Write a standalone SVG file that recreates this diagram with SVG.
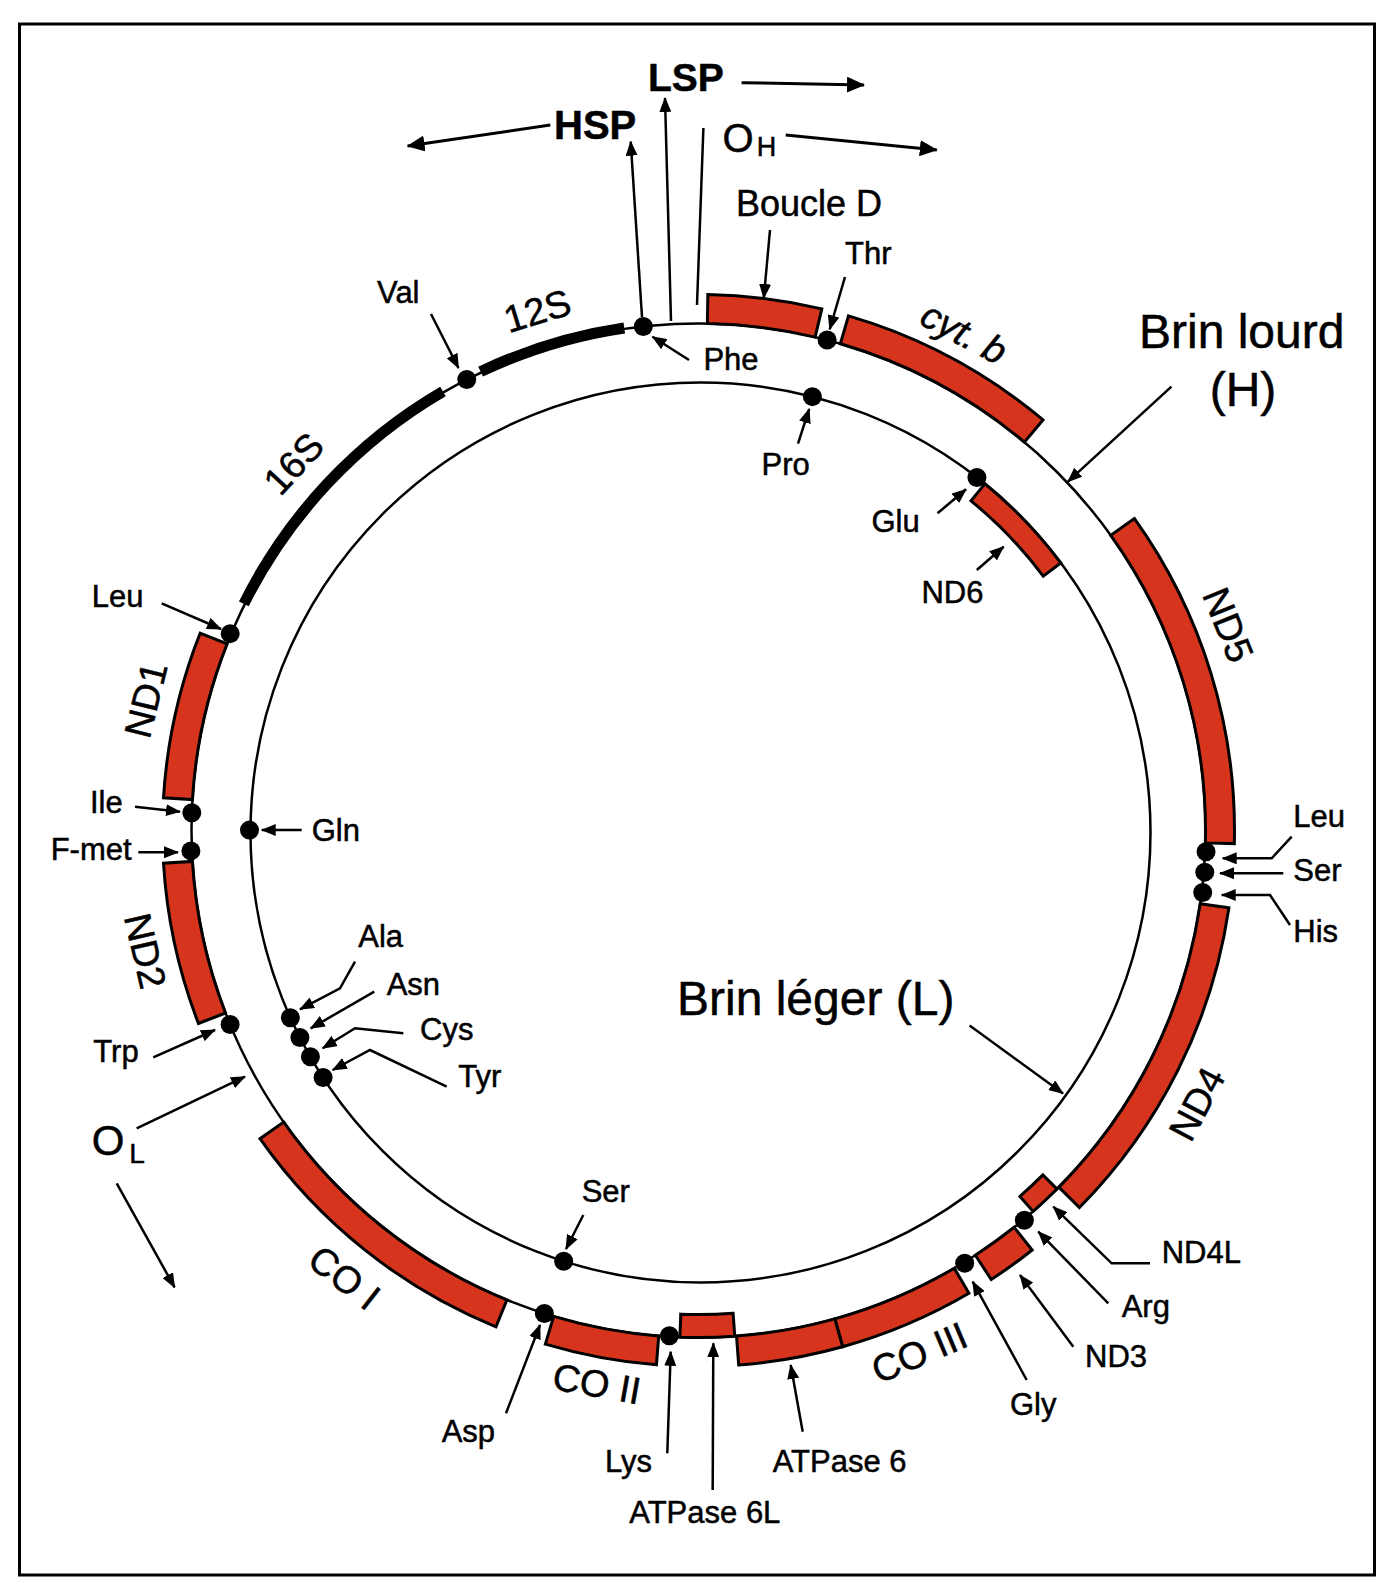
<svg xmlns="http://www.w3.org/2000/svg" width="1393" height="1592" viewBox="0 0 1393 1592">
<style>
.box{fill:#d6341c;stroke:#000;stroke-width:3;stroke-linejoin:miter}
.strand{fill:none;stroke:#000;stroke-width:2.5}
.rrna{fill:none;stroke:#000;stroke-width:11}
.dot{fill:#000}
text{font-family:"Liberation Sans",Arial,Helvetica,sans-serif;fill:#000;stroke:#000;stroke-width:0.5}
.lbl{font-size:31px}
.gl{font-size:38px}
.big{font-size:48px}
.arr{fill:none;stroke:#000;stroke-width:2.5;marker-end:url(#ah)}
.arrb{fill:none;stroke:#000;stroke-width:3;marker-end:url(#ahb)}
</style>
<defs>
<marker id="ah" viewBox="0 0 15 12" refX="14" refY="6" markerWidth="15" markerHeight="12" markerUnits="userSpaceOnUse" orient="auto"><path d="M0,0 L15,6 L0,12 z" fill="#000"/></marker>
<marker id="ahb" viewBox="0 0 18 16" refX="17" refY="8" markerWidth="18" markerHeight="16" markerUnits="userSpaceOnUse" orient="auto"><path d="M0,0 L18,8 L0,16 z" fill="#000"/></marker>
</defs>
<rect width="1393" height="1592" fill="#fff"/>
<g id="frame"><rect x="19.5" y="24" width="1355" height="1551" fill="none" stroke="#000" stroke-width="3"/></g>

<g id="strand-H"><circle class="strand" cx="698.5" cy="830.5" r="507"/>
<text class="big" x="1139" y="348">Brin lourd</text><text class="big" x="1243" y="406" text-anchor="middle">(H)</text></g>
<g id="strand-L"><circle class="strand" cx="700.5" cy="832.5" r="450"/>
<text class="big" x="677" y="1015">Brin léger (L)</text></g>

<g id="rRNA-16S"><path class="rrna" d="M243.87,603.83 A508,508 0 0 1 442.97,391.45"/><text class="gl" font-size="40" transform="translate(293,463) rotate(-47)" text-anchor="middle" y="14">16S</text></g>
<g id="rRNA-12S"><path class="rrna" d="M480.60,371.61 A508,508 0 0 1 624.29,327.95"/><text class="gl" font-size="40" transform="translate(537,310) rotate(-17)" text-anchor="middle" y="14">12S</text></g>

<g id="boucle-D"><path class="box" d="M707.35,323.58 A507,507 0 0 1 815.14,337.10 L821.81,308.88 A536,536 0 0 0 707.85,294.58 Z"/><text x="736" y="216" font-size="36">Boucle D</text></g>
<g id="gene-cytb"><path class="box" d="M840.37,343.75 A507,507 0 0 1 1024.39,442.11 L1043.03,419.90 A536,536 0 0 0 848.49,315.91 Z"/><text class="gl" font-style="italic" transform="translate(964,333) rotate(28)" text-anchor="middle" y="13">cyt. b</text></g>
<g id="gene-ND5"><path class="box" d="M1110.74,535.36 A507,507 0 0 1 1205.35,842.89 L1234.34,843.60 A536,536 0 0 0 1134.32,518.48 Z"/><text class="gl" transform="translate(1228,625) rotate(68)" text-anchor="middle" y="13">ND5</text></g>
<g id="gene-ND4"><path class="box" d="M1200.19,903.69 A507,507 0 0 1 1058.88,1187.12 L1079.49,1207.52 A536,536 0 0 0 1228.89,907.87 Z"/><text class="gl" transform="translate(1197,1104) rotate(-62)" text-anchor="middle" y="13">ND4</text></g>
<g id="gene-ND4L"><path class="box" d="M1057.00,1189.00 A507,507 0 0 1 1033.12,1211.39 L1019.92,1196.37 A487,487 0 0 0 1042.86,1174.86 Z"/><text class="lbl" x="1161.7" y="1263.3">ND4L</text></g>
<g id="gene-ND3"><path class="box" d="M1014.12,1227.28 A507,507 0 0 1 975.37,1255.22 L991.21,1279.52 A536,536 0 0 0 1032.17,1249.98 Z"/><text class="lbl" x="1085" y="1366.7">ND3</text></g>
<g id="gene-COIII"><path class="box" d="M954.30,1268.24 A507,507 0 0 1 834.84,1318.82 L842.64,1346.76 A536,536 0 0 0 968.93,1293.28 Z"/><text class="gl" font-size="40" transform="translate(919,1352) rotate(-23)" text-anchor="middle" y="14">CO III</text></g>
<g id="gene-ATPase6"><path class="box" d="M834.84,1318.82 A507,507 0 0 1 736.51,1336.07 L738.69,1364.99 A536,536 0 0 0 842.64,1346.76 Z"/><text class="lbl" x="772.7" y="1471.7">ATPase 6</text></g>
<g id="gene-ATPase6L"><path class="box" d="M734.75,1336.20 A507,507 0 0 1 679.92,1337.16 L680.76,1314.17 A484,484 0 0 0 733.10,1313.26 Z"/><text class="lbl" x="629.3" y="1523.3">ATPase 6L</text></g>
<g id="gene-COII"><path class="box" d="M658.72,1335.94 A507,507 0 0 1 553.66,1316.37 L545.37,1344.16 A536,536 0 0 0 656.45,1364.85 Z"/><text class="gl" font-size="40" transform="translate(597,1383) rotate(10)" text-anchor="middle" y="14">CO II</text></g>
<g id="gene-COI"><path class="box" d="M506.93,1299.92 A507,507 0 0 1 283.72,1122.06 L259.99,1138.73 A536,536 0 0 0 495.98,1326.77 Z"/><text class="gl" font-size="40" transform="translate(345,1277) rotate(38)" text-anchor="middle" y="14">CO I</text></g>
<g id="gene-ND2"><path class="box" d="M225.49,1013.02 A507,507 0 0 1 192.45,861.45 L163.50,863.22 A536,536 0 0 0 198.44,1023.46 Z"/><text class="gl" transform="translate(145,951) rotate(77)" text-anchor="middle" y="13">ND2</text></g>
<g id="gene-ND1"><path class="box" d="M192.45,799.55 A507,507 0 0 1 227.10,643.86 L200.14,633.19 A536,536 0 0 0 163.50,797.78 Z"/><text class="gl" transform="translate(146,700) rotate(-76)" text-anchor="middle" y="13">ND1</text></g>
<g id="gene-ND6"><path class="box" d="M984.91,483.78 A450,450 0 0 1 1060.83,562.94 L1043.21,576.12 A428,428 0 0 0 971.01,500.82 Z"/><text class="lbl" x="921.4" y="603">ND6</text></g>

<g id="tRNA-Phe"><circle class="dot" cx="643.3" cy="326.5" r="9.5"/><text class="lbl" x="703.4" y="370">Phe</text></g>
<g id="tRNA-Thr"><circle class="dot" cx="827.15" cy="340.09" r="9.5"/><text class="lbl" x="845" y="264">Thr</text></g>
<g id="tRNA-Val"><circle class="dot" cx="466.75" cy="379.57" r="9.5"/><text class="lbl" x="377" y="303">Val</text></g>
<g id="tRNA-Leu1"><circle class="dot" cx="230.19" cy="633.64" r="9.5"/><text class="lbl" x="91.7" y="606.7">Leu</text></g>
<g id="tRNA-Ile"><circle class="dot" cx="191.81" cy="812.81" r="9.5"/><text class="lbl" x="90" y="812.7">Ile</text></g>
<g id="tRNA-Fmet"><circle class="dot" cx="190.91" cy="850.89" r="9.5"/><text class="lbl" x="50.7" y="860">F-met</text></g>
<g id="tRNA-Trp"><circle class="dot" cx="230.09" cy="1024.52" r="9.5"/><text class="lbl" x="93.3" y="1061.7">Trp</text></g>
<g id="tRNA-Asp"><circle class="dot" cx="544.36" cy="1313.5" r="9.5"/><text class="lbl" x="441.7" y="1441.7">Asp</text></g>
<g id="tRNA-Lys"><circle class="dot" cx="669.37" cy="1335.66" r="9.5"/><text class="lbl" x="605" y="1471.7">Lys</text></g>
<g id="tRNA-Gly"><circle class="dot" cx="964.68" cy="1263.18" r="9.5"/><text class="lbl" x="1010" y="1415">Gly</text></g>
<g id="tRNA-Arg"><circle class="dot" cx="1024.37" cy="1220.21" r="9.5"/><text class="lbl" x="1121.7" y="1316.7">Arg</text></g>
<g id="tRNA-Leu2"><circle class="dot" cx="1206.05" cy="851.77" r="9.5"/><text class="lbl" x="1293.3" y="826.7">Leu</text></g>
<g id="tRNA-Ser2"><circle class="dot" cx="1204.79" cy="872.13" r="9.5"/><text class="lbl" x="1293.3" y="881">Ser</text></g>
<g id="tRNA-His"><circle class="dot" cx="1202.71" cy="892.41" r="9.5"/><text class="lbl" x="1293.3" y="941.7">His</text></g>
<g id="tRNA-Pro"><circle class="dot" cx="812.41" cy="396.64" r="9.5"/><text class="lbl" x="761.5" y="475">Pro</text></g>
<g id="tRNA-Glu"><circle class="dot" cx="976.93" cy="477.41" r="9.5"/><text class="lbl" x="871.4" y="531.7">Glu</text></g>
<g id="tRNA-Gln"><circle class="dot" cx="249.5" cy="830.1" r="9.5"/><text class="lbl" x="311.7" y="840.7">Gln</text></g>
<g id="tRNA-Ala"><circle class="dot" cx="290.37" cy="1017.68" r="9.5"/><text class="lbl" x="358.3" y="946.7">Ala</text></g>
<g id="tRNA-Asn"><circle class="dot" cx="299.9" cy="1037.5" r="9.5"/><text class="lbl" x="386.7" y="995">Asn</text></g>
<g id="tRNA-Cys"><circle class="dot" cx="310.4" cy="1056.82" r="9.5"/><text class="lbl" x="420" y="1040">Cys</text></g>
<g id="tRNA-Tyr"><circle class="dot" cx="323.1" cy="1077.59" r="9.5"/><text class="lbl" x="458.3" y="1086.7">Tyr</text></g>
<g id="tRNA-Ser1"><circle class="dot" cx="563.69" cy="1261.2" r="9.5"/><text class="lbl" x="581.7" y="1201.7">Ser</text></g>

<g id="promoter-LSP"><text x="648" y="90.7" font-size="39" font-weight="bold">LSP</text></g>
<g id="promoter-HSP"><text x="554" y="139.3" font-size="40" font-weight="bold">HSP</text></g>
<g id="origin-OH"><text x="722.5" y="152" font-size="40">O<tspan font-size="27" dx="3" dy="4">H</tspan></text></g>
<g id="origin-OL"><text x="91.7" y="1155" font-size="42">O<tspan font-size="28" dx="5" dy="8">L</tspan></text></g>

<g id="connectors">
<path class="arrb" d="M741.6,82.7 L864,85"/>
<path class="arrb" d="M550.3,125 L407.6,146"/>
<path class="arrb" d="M785.7,135 L936.8,150"/>
<path class="arr" d="M642,317 L630.7,141.7"/>
<path class="arr" d="M671,321 L665,98"/>
<path class="strand" d="M697,305 L703.4,128"/>
<path class="arr" d="M770,230 L763.8,298"/>
<path class="arr" d="M845,277 L829.7,329.3"/>
<path class="arr" d="M689,360 L652.5,336.7"/>
<path class="arr" d="M431,314 L458.5,368"/>
<path class="arr" d="M1171.4,386.7 L1067.9,481.7"/>
<path class="arr" d="M798,443.7 L809.2,409"/>
<path class="arr" d="M937.5,513.3 L966,489.3"/>
<path class="arr" d="M976.8,570 L1003.6,546.7"/>
<path class="arr" d="M161.7,603.3 L221,629"/>
<path class="arr" d="M135,806.7 L180,811.7"/>
<path class="arr" d="M138.3,852.3 L178,852.3"/>
<path class="arr" d="M301.7,830 L261.7,830"/>
<path class="arr" d="M153.3,1057.3 L215,1030"/>
<path class="arr" d="M136.7,1128.3 L245,1076.7"/>
<path class="arr" d="M116.7,1183.3 L174.6,1287.4"/>
<path class="arr" d="M355,961.7 L340,988.3 L300,1009.3"/>
<path class="arr" d="M374.3,991.7 L310.7,1028.3"/>
<path class="arr" d="M403.3,1033.3 L355,1028.3 L322.7,1048.3"/>
<path class="arr" d="M446.7,1086.7 L370,1050 L332.7,1070"/>
<path class="arr" d="M583.3,1215 L566,1249"/>
<path class="arr" d="M969.6,1025.5 L1063,1093.5"/>
<path class="arr" d="M1291.7,836.7 L1271.7,858.3 L1222.7,858.3"/>
<path class="arr" d="M1283.3,873.3 L1220,873.3"/>
<path class="arr" d="M1290,925 L1270,895 L1221.7,895"/>
<path class="arr" d="M1150,1263.3 L1111.7,1263.3 L1053.3,1206.7"/>
<path class="arr" d="M1108.3,1303.3 L1038.3,1231.7"/>
<path class="arr" d="M1073.3,1346.7 L1020,1275"/>
<path class="arr" d="M1026.7,1380 L972.7,1281.7"/>
<path class="arr" d="M802.7,1431.7 L790.7,1365"/>
<path class="arr" d="M712.7,1490 L713.3,1343.3"/>
<path class="arr" d="M667.3,1453.3 L670.7,1351.7"/>
<path class="arr" d="M506,1413.3 L540,1325"/>
</g>
</svg>
